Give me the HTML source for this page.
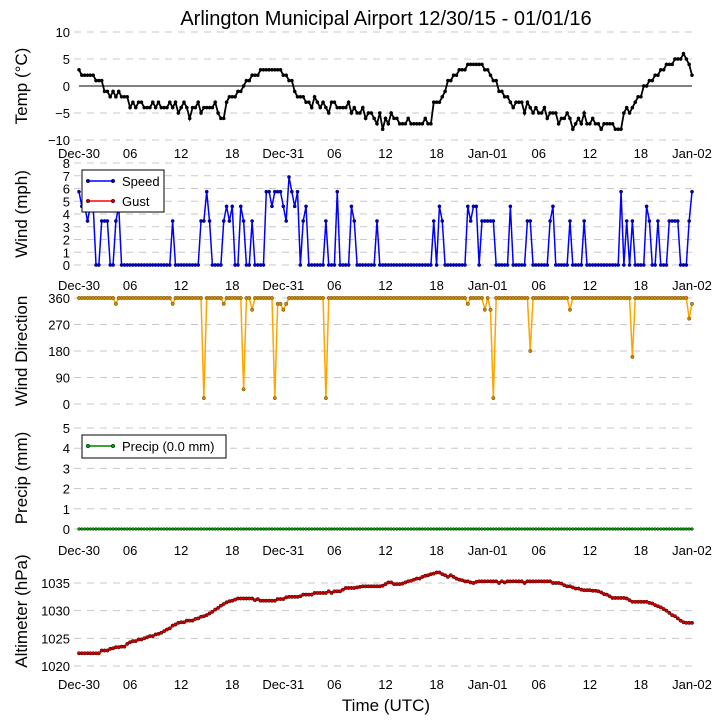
<!DOCTYPE html>
<html><head><meta charset="utf-8"><style>
html,body{margin:0;padding:0;background:#fff;}
svg{display:block;font-family:"Liberation Sans","DejaVu Sans",sans-serif;}
</style></head><body>
<svg id="chart" width="723" height="725" viewBox="0 0 723 725" xmlns="http://www.w3.org/2000/svg">
<rect width="723" height="725" fill="#fff"/>
<text x="386" y="25" font-size="20" text-anchor="middle">Arlington Municipal Airport 12/30/15 - 01/01/16</text>
<text x="386" y="711" font-size="17" text-anchor="middle">Time (UTC)</text>
<g id="layer"></g>
</svg>
<script>
const tickLabels = ["Dec-30","06","12","18","Dec-31","06","12","18","Jan-01","06","12","18","Jan-02"];
const temp = [3,2,2, 2,2,2, 1,1,1, -1,-1,-2, -1,-2,-1, -2,-2,-2, -4,-3,-4, -3,-3,-4, -4,-4,-3, -4,-3,-4,
 -4,-4,-3, -4,-3,-5, -4,-3,-4, -6,-4,-4, -3,-5,-4, -4,-4,-4, -3,-5,-6, -6,-3,-2, -2,-2,-1, -1,0,1,
 1,2,2, 2,3,3, 3,3,3, 3,3,3, 2,2,1, 1,-1,-2, -2,-2,-3, -3,-4,-2, -3,-4,-3, -4,-5,-3,
 -3,-4,-4, -4,-4,-3, -5,-4,-5, -5,-4,-6, -5,-5,-6, -7,-5,-8, -6,-7,-5, -6,-6,-7, -7,-7,-6, -7,-7,-7,
 -7,-7,-6, -7,-7,-3, -3,-3,-2, -1,1,1, 2,2,3, 3,3,4, 4,4,4, 4,4,3, 3,2,1, 1,-1,-1,
 -2,-2,-3, -4,-3,-3, -3,-5,-3, -4,-5,-4, -5,-5,-4, -6,-5,-5, -5,-7,-6, -6,-5,-6, -8,-7,-6, -7,-5,-7,
 -7,-6,-7, -7,-8,-7, -7,-7,-7, -8,-8,-8, -5,-4,-5, -4,-3,-2, -2,0,0, 1,1,2, 2,3,3, 4,4,4,
 5,5,5, 6,5,4, 2];
const speed = [5.75,4.6,4.6,3.45,4.6,4.6,0,0,3.45,3.45,3.45,0,0,3.45,4.6,
 0,0,0,0,0,0,0,0,0,0,0,0,0,0,0,0,0,0, 3.45, 0,0,0,0,0,0,0,0,0,
 3.45,3.45,5.75,3.45, 0,0,0,0, 3.45,4.6,3.45,4.6, 0,0, 4.6,3.45, 0,0, 3.45, 0,0,0,0,
 5.75,5.75,4.6,5.75,5.75,5.75,4.6,3.45,6.9,5.75,4.6,5.75, 0, 3.45,4.6, 0,0,0,0,0,0, 3.45, 0,0,0, 5.75,
 0,0,0,0, 4.6,3.45, 0,0,0,0,0,0,0, 3.45, 0,0,0,0,0,0,0,0,0,0,0,0,0,0,0,0,0,0,0,
 3.45, 0, 4.6,3.45, 0,0,0,0,0,0,0,0, 4.6,3.45,4.6,4.6, 0, 3.45,3.45,3.45,3.45,3.45, 0,0,0,0,0, 4.6,
 0,0,0,0,0, 3.45,3.45, 0,0,0,0,0,0, 3.45,4.6, 0,0,0,0,0, 3.45, 0,0,0,0, 3.45,
 0,0,0,0,0,0,0,0,0,0,0,0, 5.75, 0, 3.45, 0, 3.45, 0,0,0,0, 4.6,3.45, 0,0, 3.45, 0,0,0,
 3.45,3.45,3.45,3.45, 0,0,0, 3.45,5.75];
const direction = [360,360,360,360,360,360,360,360,360,360,
 360,360,360,340,360,360,360,360,360,360,
 360,360,360,360,360,360,360,360,360,360,
 360,360,360,340,360,360,360,360,360,360,
 360,360,360,360,20,360,360,360,360,360,
 360,340,360,360,360,360,360,360,50,360,
 360,320,360,360,360,360,360,360,360,20,
 340,340,320,340,360,360,360,360,360,360,
 360,360,360,360,360,360,360,20,360,360,
 360,360,360,360,360,360,360,360,360,360,
 360,360,360,360,360,360,360,360,360,360,
 360,360,360,360,360,360,360,360,360,360,
 360,360,360,360,360,360,360,360,360,360,
 360,360,360,360,360,360,360,340,360,360,
 360,360,360,320,360,320,20,360,360,360,
 360,360,360,360,360,360,360,360,360,180,
 360,360,360,360,360,360,360,360,360,360,
 360,360,360,320,360,360,360,360,360,360,
 360,360,360,360,360,360,360,360,360,360,
 360,360,360,360,360,160,360,360,360,360,
 360,360,360,360,360,360,360,360,360,360,
 360,360,360,360,360,290,340];
const precip = Array(217).fill(0);
const pressure = [1022.3,1022.3,1022.3, 1022.3,1022.3,1022.3, 1022.3,1022.3,1022.8, 1022.8,1022.8,1023.1, 1023.2,1023.4,1023.4,
 1023.5,1023.5,1024.0, 1024.3,1024.5,1024.5, 1024.8,1024.8,1025.0, 1025.2,1025.4,1025.4, 1025.7,1025.8,1026.0,
 1026.3,1026.6,1026.8, 1027.3,1027.5,1027.8, 1027.9,1027.9,1028.2, 1028.2,1028.2,1028.5, 1028.6,1028.9,1029.0,
 1029.2,1029.5,1029.8, 1030.2,1030.5,1030.9, 1031.2,1031.5,1031.7, 1031.8,1032.0,1032.2, 1032.2,1032.2,1032.2,
 1032.2,1032.2,1031.9, 1032.1,1031.8,1031.8, 1031.8,1031.8,1031.8, 1031.8,1032.1,1032.1, 1032.1,1032.4,1032.5,
 1032.5,1032.5,1032.5, 1032.6,1032.9,1032.9, 1032.9,1032.9,1033.2, 1033.2,1033.2,1033.2, 1033.2,1033.5,1033.2,
 1033.5,1033.5,1033.5, 1033.8,1034.1,1034.1, 1034.1,1034.1,1034.2, 1034.3,1034.4,1034.4, 1034.4,1034.4,1034.4,
 1034.4,1034.4,1034.5, 1034.8,1035.1,1035.1, 1034.8,1034.8,1034.8, 1034.9,1035.1,1035.3, 1035.4,1035.6,1035.8,
 1035.8,1036.1,1036.3, 1036.4,1036.6,1036.7, 1036.9,1036.9,1036.6, 1036.4,1036.1,1036.4, 1036.1,1035.8,1035.6,
 1035.5,1035.3,1035.3, 1035.1,1035.0,1035.2, 1035.3,1035.3,1035.3, 1035.3,1035.3,1035.3, 1035.3,1035.0,1035.3,
 1035.1,1035.3,1035.3, 1035.3,1035.3,1035.3, 1035.3,1035.0,1035.3, 1035.3,1035.3,1035.3, 1035.3,1035.3,1035.3,
 1035.3,1035.3,1035.0, 1035.0,1035.0,1034.9, 1034.6,1034.4,1034.4, 1034.2,1034.0,1034.0, 1033.8,1033.7,1033.7,
 1033.7,1033.6,1033.6, 1033.5,1033.3,1033.0, 1032.9,1032.6,1032.3, 1032.3,1032.3,1032.3, 1032.3,1032.2,1031.9,
 1031.6,1031.6,1031.6, 1031.6,1031.6,1031.6, 1031.4,1031.3,1031.0, 1030.8,1030.6,1030.3, 1030.0,1029.6,1029.2,
 1029.0,1028.6,1028.2, 1027.9,1027.8,1027.8, 1027.8];

const NS="http://www.w3.org/2000/svg";
const layer=document.getElementById('layer');
const X0=79,X1=692,HOURS=72;
function xs(h){return X0+h*(X1-X0)/HOURS;}
function mk(tag,attrs,parent){const e=document.createElementNS(NS,tag);for(const k in attrs)e.setAttribute(k,attrs[k]);(parent||layer).appendChild(e);return e;}
function yScale(v0,v1,p0,p1){return v=>p0+(v-v0)*(p1-p0)/(v1-v0);}

function panel(name,ys,ticks,tickFmt,label,labelY,xLabelsY){
  const g=mk('g',{});
  
  
  ticks.forEach(t=>{
    const y=ys(t);
    const gl=mk('line',{x1:74,x2:696,y1:y,y2:y,stroke:'#c8c8c8','stroke-width':1,'stroke-dasharray':'7,6'},g);
    
    
    const tl=mk('text',{x:70,y:y+5,'font-size':13,'text-anchor':'end'},g);
    
    
    tl.textContent=tickFmt(t);
  });
  const yl=mk('text',{x:0,y:0,'font-size':17,'text-anchor':'middle',transform:'translate(27,'+labelY+') rotate(-90)'},g);
  
  
  yl.textContent=label;
  if(xLabelsY){
    tickLabels.forEach((t,i)=>{
      const xt=mk('text',{x:xs(i*6),y:xLabelsY,'font-size':13,'text-anchor':'middle'},g);
      
      
      xt.textContent=t;
    });
  }
  return g;
}
function series(name,vals,step,ys,color,lw,r,fill,stroke){
  const g=mk('g',{});
  
  
  const pts=vals.map((v,i)=>xs(i*step).toFixed(2)+','+ys(v).toFixed(2)).join(' ');
  const pl=mk('polyline',{points:pts,fill:'none',stroke:color,'stroke-width':lw},g);
  
  
  vals.forEach((v,i)=>{
    const c=mk('circle',{cx:xs(i*step),cy:ys(v),r:r,fill:fill,stroke:stroke,'stroke-width':0.5},g);
    
    
  });
}
const fmtMinus=t=>String(t).replace('-','\u2212');

const yT=yScale(-10,10,140,32);
panel('temp',yT,[10,5,-5,-10],fmtMinus,'Temp (\u00B0C)',86,158);
const zl=mk('line',{x1:X0,x2:X1,y1:yT(0),y2:yT(0),stroke:'#000','stroke-width':1});


const z0=mk('text',{x:70,y:yT(0)+5,'font-size':13,'text-anchor':'end'});


z0.textContent='0';
series('temp',temp,1/3,yT,'#000',1.8,1.6,'#000','#000');

const yW=yScale(0,8,265,163);
panel('wind',yW,[0,1,2,3,4,5,6,7,8],String,'Wind (mph)',214,290);
series('speed',speed,1/3,yW,'#0000ff',1.5,1.6,'#0000cc','#000066');

const yD=yScale(0,360,404,298);
panel('direction',yD,[0,90,180,270,360],String,'Wind Direction',351,null);
series('direction',direction,1/3,yD,'#ffa500',1.5,1.7,'#d08800','#6a4a00');

const yP=yScale(0,5,529,428);
panel('precip',yP,[0,1,2,3,4,5],String,'Precip (mm)',478,555);
series('precip',precip,1/3,yP,'#008000',1.5,1.4,'#00a000','#003000');

const yA=yScale(1020,1035,666,583);
panel('altimeter',yA,[1020,1025,1030,1035],String,'Altimeter (hPa)',611,689);
series('altimeter',pressure,1/3,yA,'#ff0000',1.5,1.7,'#cc0000','#400000');

function legend(name,x,y,w,h,items){
  const g=mk('g',{});
  
  
  mk('rect',{x:x,y:y,width:w,height:h,fill:'#fff',stroke:'#000','stroke-width':1},g);
  items.forEach((it,i)=>{
    const cy=y+11+i*20;
    const e=mk('g',{},g);
    
    
    mk('line',{x1:x+6,x2:x+31,y1:cy,y2:cy,stroke:it[1],'stroke-width':1.5},e);
    mk('circle',{cx:x+6,cy:cy,r:1.8,fill:it[2],stroke:'#000','stroke-width':0.5},e);
    mk('circle',{cx:x+31,cy:cy,r:1.8,fill:it[2],stroke:'#000','stroke-width':0.5},e);
    const t=mk('text',{x:x+40,y:cy+5,'font-size':13},e);
    t.textContent=it[0];
  });
}
legend('wind-legend',82,170,82,42,[['Speed','#0000ff','#0000cc'],['Gust','#ff0000','#cc0000']]);
legend('precip-legend',82,435,144,23,[['Precip (0.0 mm)','#008000','#00a000']]);
</script>
</body></html>
